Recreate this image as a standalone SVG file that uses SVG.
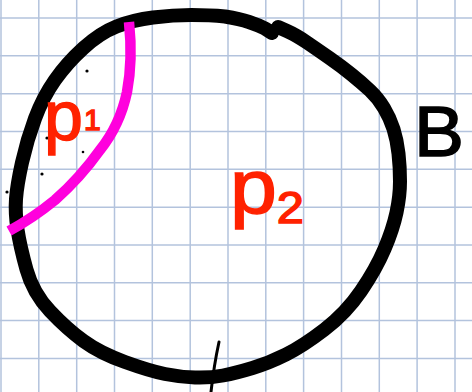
<svg xmlns="http://www.w3.org/2000/svg" width="472" height="392" viewBox="0 0 472 392">
<style>
.grid line{stroke:#b3c3dd;stroke-width:1.5}
.ink{fill:none;stroke:#000;stroke-linecap:round;stroke-linejoin:round}
.red{fill:#ff2200;stroke:#ff2200;stroke-width:1.5;font-family:"Liberation Sans",Arial,sans-serif}
.dot{fill:#000}
</style>
<rect width="472" height="392" fill="#fff"/>
<g class="grid">
<line x1="1" y1="0" x2="1" y2="392"/><line x1="38.8" y1="0" x2="38.8" y2="392"/><line x1="76.7" y1="0" x2="76.7" y2="392"/><line x1="114.5" y1="0" x2="114.5" y2="392"/><line x1="152.3" y1="0" x2="152.3" y2="392"/><line x1="190.2" y1="0" x2="190.2" y2="392"/><line x1="228" y1="0" x2="228" y2="392"/><line x1="265.8" y1="0" x2="265.8" y2="392"/><line x1="303.6" y1="0" x2="303.6" y2="392"/><line x1="341.5" y1="0" x2="341.5" y2="392"/><line x1="379.3" y1="0" x2="379.3" y2="392"/><line x1="417.1" y1="0" x2="417.1" y2="392"/><line x1="455" y1="0" x2="455" y2="392"/>
<line x1="0" y1="18" x2="472" y2="18"/><line x1="0" y1="55.8" x2="472" y2="55.8"/><line x1="0" y1="93.7" x2="472" y2="93.7"/><line x1="0" y1="131.5" x2="472" y2="131.5"/><line x1="0" y1="169.3" x2="472" y2="169.3"/><line x1="0" y1="207.2" x2="472" y2="207.2"/><line x1="0" y1="245" x2="472" y2="245"/><line x1="0" y1="282.8" x2="472" y2="282.8"/><line x1="0" y1="320.6" x2="472" y2="320.6"/><line x1="0" y1="358.5" x2="472" y2="358.5"/>
</g>
<g id="dots">
<circle class="dot" cx="87" cy="71" r="1.6"/><circle class="dot" cx="47" cy="138" r="1.6"/><circle class="dot" cx="83" cy="152" r="1.3"/><circle class="dot" cx="42" cy="174" r="1.6"/><circle class="dot" cx="7" cy="192" r="1.6"/>
</g>
<g id="circle-B">
<path class="ink" stroke-width="14" d="M 278,27 L 287,31 Q 296,35 307,42.5 Q 318,50 329.5,58 Q 341,66 351.5,74.5 Q 362,83 370,90.5 Q 378,98 384,108 Q 390,118 393.5,129 Q 397,140 398.5,153.5 Q 400,167 400,181.5 Q 400,196 396.5,212.5 Q 393,229 384.5,249 Q 376,269 361,291 Q 346,313 324.5,329.5 Q 303,346 286,354.5 Q 269,363 252.5,368 Q 236,373 223,375.5 Q 210,378 195,377.5 Q 180,377 165,374 Q 150,371 125,362 Q 100,353 83.5,341 Q 67,329 50,311 Q 33,293 26.5,269.5 Q 20,246 17.5,229.5 Q 15,213 16,199 Q 17,185 22,162.5 Q 27,140 35,118.5 Q 43,97 55,80 Q 67,63 83.5,48 Q 100,33 116.5,26.5 Q 133,20 153,17.5 Q 173,15 191.5,15 Q 210,15 225,16.5 Q 240,19 249,22 Q 258,25 265,28.5 L 272,33"/>
<path class="ink" stroke-width="3" d="M 219,342 Q 214,365 211,392"/>
</g>
<g id="region-p1">
<path fill="none" stroke="#ff00dd" stroke-width="10.5" stroke-linecap="butt" d="M 129,22 Q 133,60 127,92 Q 120,125 100,150 Q 80,178 55,200 Q 33,218 9,231"/>
<text class="red" x="44" y="140" font-size="70">p<tspan font-size="30" dx="1" dy="-10">1</tspan></text>
</g>
<g id="region-p2">
<text class="red" x="230" y="213" font-size="76" textLength="74" lengthAdjust="spacingAndGlyphs">p<tspan font-size="44" dy="10">2</tspan></text>
</g>
<g id="label-B">
<text x="414" y="156" font-size="70" font-family="Liberation Sans, Arial, sans-serif" fill="#000" stroke="#000" stroke-width="1.5" textLength="50" lengthAdjust="spacingAndGlyphs">B</text>
</g>
</svg>
